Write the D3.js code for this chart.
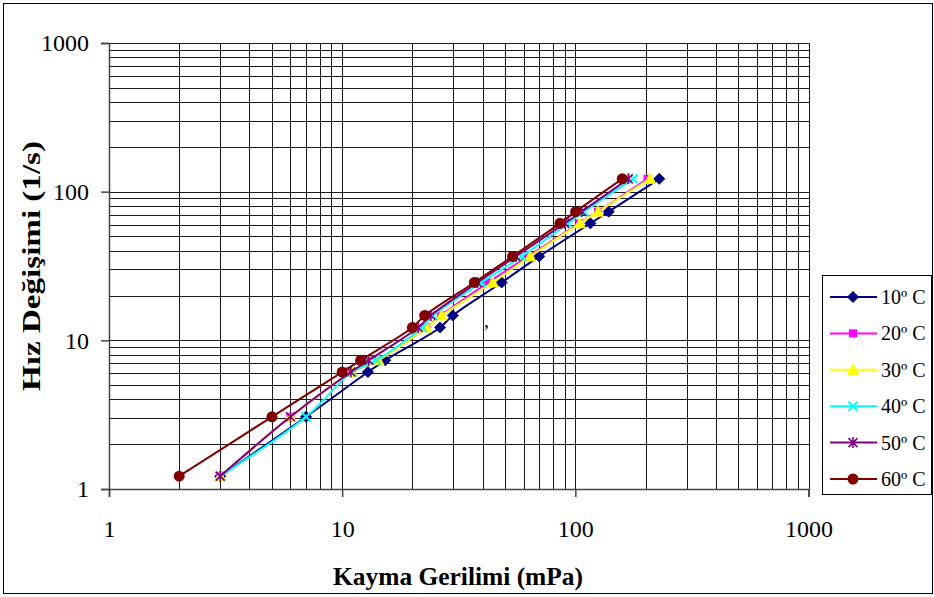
<!DOCTYPE html>
<html>
<head>
<meta charset="utf-8">
<script src="https://cdn.jsdelivr.net/npm/d3@7"></script>
<style>
  body { margin: 0; background: #fff; }
  svg { display: block; }
  text { font-family: "Liberation Serif", "Times New Roman", serif; fill: #000; }
</style>
</head>
<body>
<svg id="chart"></svg>
<script>
(() => {
  const width = 934;
  const height = 597;
  const plot = { left: 109, right: 808.5, top: 43, bottom: 489 };

  // shear rate (1/s), shared by every series
  const shearRate = [1.22, 3.06, 6.12, 7.34, 12.2, 14.7, 24.5, 36.7, 61.2, 73.4, 122];
  // shear stress (mPa) per temperature
  const stress10 = [3, 7, 12.9, 15.3, 26.3, 29.8, 48.3, 70, 116, 139, 229];
  const stress20 = [3, 6, 11, 14.2, 23, 26.5, 42.3, 62.8, 104, 125, 204];
  const stress30 = [3, 6, 11, 14.3, 23, 26.7, 44.2, 64, 104.6, 125, 209];
  const stress40 = [3, 7, 11, 14, 22, 24.5, 39.6, 58.9, 93, 109, 177];
  const stress50 = [3, 6, 10.9, 13, 21.2, 24, 38, 55.6, 90, 106.4, 168.6];
  const stress60 = [2, 5, 10, 12, 20, 22.6, 36.9, 53.8, 85.9, 100.3, 158.9];

  const seriesNames = ["10º C", "20º C", "30º C", "40º C", "50º C", "60º C"];
  const seriesValues = [stress10, stress20, stress30, stress40, stress50, stress60];
  const seriesColors = ["#000080", "#ff00ff", "#ffff00", "#00ffff", "#800080", "#800000"];
  const markerTypes = ["diamond", "square", "triangle", "x", "star", "circle"];

  const majorTicks = [1, 10, 100, 1000];

  const svg = d3.select("#chart").attr("width", width).attr("height", height);

  svg.append("rect")
    .attr("x", 3.5).attr("y", 3.5)
    .attr("width", 929).attr("height", 590)
    .attr("fill", "#fff").attr("stroke", "#000").attr("stroke-width", 1);

  const x = d3.scaleLog().domain([1, 1000]).range([plot.left, plot.right]);
  const y = d3.scaleLog().domain([1, 1000]).range([plot.bottom, plot.top]);

  // grid
  const grid = svg.append("g").attr("shape-rendering", "crispEdges");
  grid.selectAll("line.v")
    .data(x.ticks())
    .join("line")
    .attr("class", "v")
    .attr("x1", (d) => Math.round(x(d)) + 0.5)
    .attr("x2", (d) => Math.round(x(d)) + 0.5)
    .attr("y1", plot.top)
    .attr("y2", plot.bottom)
    .attr("stroke", "#1a1a1a");
  grid.selectAll("line.h")
    .data(y.ticks())
    .join("line")
    .attr("class", "h")
    .attr("x1", plot.left)
    .attr("x2", plot.right)
    .attr("y1", (d) => Math.round(y(d)) + 0.5)
    .attr("y2", (d) => Math.round(y(d)) + 0.5)
    .attr("stroke", "#1a1a1a");

  // axes
  const xAxis = svg.append("g")
    .attr("transform", `translate(0,${plot.bottom})`)
    .call(d3.axisBottom(x).tickValues(majorTicks).tickSize(8).tickPadding(23).tickFormat(d3.format("d")));
  const yAxis = svg.append("g")
    .attr("transform", `translate(${plot.left},0)`)
    .call(d3.axisLeft(y).tickValues(majorTicks).tickSize(8).tickPadding(12).tickFormat(d3.format("d")));

  [xAxis, yAxis].forEach((a) => {
    a.attr("font-family", null).attr("font-size", null);
    a.select(".domain").attr("stroke", "#444").attr("stroke-width", 1.5);
    a.selectAll(".tick line").attr("stroke", "#444").attr("stroke-width", 1.5);
    a.selectAll(".tick text").attr("font-size", 24);
  });

  // markers
  function drawMarker(g, type, color) {
    if (type === "diamond") {
      g.append("path").attr("d", "M0,-5.5L5.5,0L0,5.5L-5.5,0Z").attr("fill", color).attr("stroke", color);
    } else if (type === "square") {
      g.append("rect").attr("x", -4).attr("y", -4).attr("width", 8).attr("height", 8).attr("fill", color);
    } else if (type === "triangle") {
      g.append("path").attr("d", "M0,-5.5L5.5,4.5L-5.5,4.5Z").attr("fill", color).attr("stroke", color);
    } else if (type === "x") {
      g.append("path").attr("d", "M-4.5,-4.5L4.5,4.5M-4.5,4.5L4.5,-4.5").attr("stroke", color).attr("stroke-width", 2);
    } else if (type === "star") {
      g.append("path").attr("d", "M-4.5,-4.5L4.5,4.5M-4.5,4.5L4.5,-4.5M0,-5.5L0,5.5").attr("stroke", color).attr("stroke-width", 1.6);
    } else {
      g.append("circle").attr("r", 5.5).attr("fill", color);
    }
  }

  const line = d3.line()
    .x((d) => x(d[0]))
    .y((d) => y(d[1]))
    .curve(d3.curveCatmullRom.alpha(0.5));

  seriesValues.forEach((vals, i) => {
    const pts = vals.map((v, j) => [v, shearRate[j]]);
    const g = svg.append("g");
    g.append("path")
      .attr("d", line(pts))
      .attr("fill", "none")
      .attr("stroke", seriesColors[i])
      .attr("stroke-width", 2);
    pts.forEach((p) => {
      const m = g.append("g").attr("transform", `translate(${x(p[0])},${y(p[1])})`);
      drawMarker(m, markerTypes[i], seriesColors[i]);
    });
  });

  // stray mark in the plot
  svg.append("text").attr("x", 484).attr("y", 327).attr("font-size", 20).text(",");

  // axis titles
  svg.append("text")
    .attr("x", 458).attr("y", 585)
    .attr("text-anchor", "middle")
    .attr("font-size", 25).attr("font-weight", "bold")
    .attr("textLength", 250).attr("lengthAdjust", "spacingAndGlyphs")
    .text("Kayma Gerilimi (mPa)");
  svg.append("text")
    .attr("transform", "translate(40,266) rotate(-90)")
    .attr("text-anchor", "middle")
    .attr("font-size", 25).attr("font-weight", "bold")
    .attr("textLength", 250).attr("lengthAdjust", "spacingAndGlyphs")
    .text("Hız Değişimi (1/s)");

  // legend
  const legend = svg.append("g");
  legend.append("rect")
    .attr("x", 822.5).attr("y", 275.5)
    .attr("width", 109).attr("height", 219)
    .attr("fill", "#fff").attr("stroke", "#000");
  seriesNames.forEach((name, i) => {
    const ly = 297 + i * 36.4;
    const item = legend.append("g").attr("transform", `translate(0,${ly})`);
    item.append("line").attr("x1", 830).attr("x2", 877).attr("stroke", seriesColors[i]).attr("stroke-width", 2);
    drawMarker(item.append("g").attr("transform", "translate(853,0)"), markerTypes[i], seriesColors[i]);
    item.append("text").attr("x", 881).attr("y", 7).attr("font-size", 20).text(name);
  });
})();
</script>
</body>
</html>
